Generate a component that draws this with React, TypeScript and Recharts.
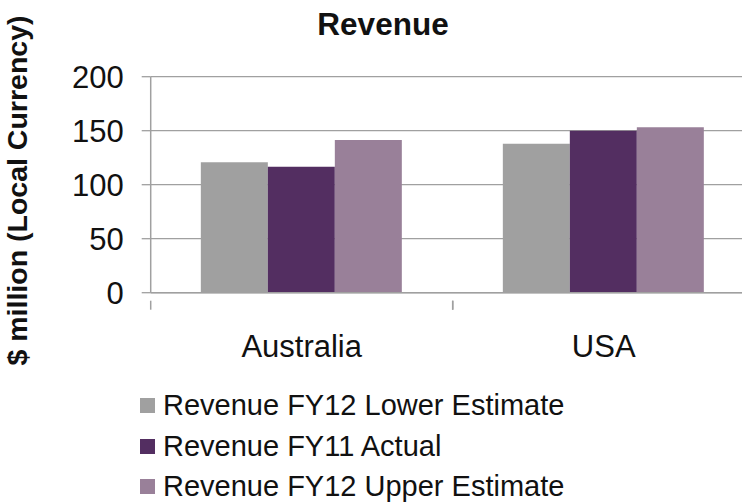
import React from 'react';
import { BarChart, Bar, XAxis, YAxis, CartesianGrid } from 'recharts';

const regions = ['Australia', 'USA'];
const lowerFY12 = [120.7, 138];
const actualFY11 = [116.7, 150];
const upperFY12 = [141.4, 153.1];
const yTicks = [0, 50, 100, 150, 200];

const seriesNames = {
  lower: 'Revenue FY12 Lower Estimate',
  actual: 'Revenue FY11 Actual',
  upper: 'Revenue FY12 Upper Estimate',
};

const colors = {
  lower: '#A0A0A0',
  actual: '#532E61',
  upper: '#998099',
};

const data = regions.map((region, i) => ({
  region,
  lower: lowerFY12[i],
  actual: actualFY11[i],
  upper: upperFY12[i],
}));

const FONT = '"Liberation Sans", Arial, sans-serif';
const AXIS_GREY = '#A0A0A0';

const CHART_W = 770;
const MARGIN = { top: 76.7, right: 15.3, bottom: 149.3, left: 0 };
const Y_AXIS_W = 150.7;
const PLOT_W = CHART_W - MARGIN.right - Y_AXIS_W;

// category labels, with the tick marks drawn on the category boundaries
const CategoryTick = (props: any) => {
  const { x, y, payload } = props;
  const half = PLOT_W / regions.length / 2;
  return (
    <g>
      <line x1={x - half} y1={y} x2={x - half} y2={y + 9} stroke={AXIS_GREY} strokeWidth={1.5} />
      <line x1={x + half} y1={y} x2={x + half} y2={y + 9} stroke={AXIS_GREY} strokeWidth={1.5} />
      <text x={x} y={y + 34} dy="0.71em" textAnchor="middle" fontSize={31} fill="#111" fontFamily={FONT}>
        {payload.value}
      </text>
    </g>
  );
};

export default function App() {
  const keys = ['lower', 'actual', 'upper'] as const;
  return (
    <div style={{ position: 'absolute', left: 0, top: 0, width: 742, height: 502, overflow: 'hidden', background: '#fff', fontFamily: FONT }}>
      <BarChart
        width={CHART_W}
        height={502}
        data={data}
        margin={MARGIN}
        barCategoryGap="16.6%"
        barGap={0}
      >
        <CartesianGrid vertical={false} stroke={AXIS_GREY} strokeWidth={1.3} />
        <XAxis
          dataKey="region"
          height={60}
          axisLine={{ stroke: AXIS_GREY, strokeWidth: 1.5 }}
          tickLine={false}
          tick={<CategoryTick />}
          interval={0}
        />
        <YAxis
          width={Y_AXIS_W}
          domain={[0, 200]}
          ticks={yTicks}
          tickSize={9}
          tickMargin={18}
          axisLine={{ stroke: AXIS_GREY, strokeWidth: 1.5 }}
          tickLine={{ stroke: AXIS_GREY, strokeWidth: 1.3 }}
          tick={{ fontSize: 31, fill: '#111', fontFamily: FONT }}
        />
        {keys.map((k) => (
          <Bar key={k} dataKey={k} name={seriesNames[k]} fill={colors[k]} isAnimationActive={false} />
        ))}
      </BarChart>

      {/* Title and y axis label */}
      <svg width={742} height={502} style={{ position: 'absolute', left: 0, top: 0, pointerEvents: 'none' }}>
        <text x={383} y={35} textAnchor="middle" fontSize={31.5} fontWeight="bold" fill="#111" fontFamily={FONT}>
          Revenue
        </text>
        <text
          transform="translate(27, 190.5) rotate(-90)"
          textAnchor="middle"
          fontSize={28.5}
          fontWeight="bold"
          fill="#111"
          fontFamily={FONT}
        >
          $ million (Local Currency)
        </text>
      </svg>

      {/* Legend */}
      <div style={{ position: 'absolute', left: 140, top: 385.25 }}>
        {keys.map((k) => (
          <div key={k} style={{ display: 'flex', alignItems: 'center', height: 40.5, lineHeight: '40.5px' }}>
            <div style={{ width: 15, height: 15, background: colors[k], marginRight: 8 }} />
            <span style={{ fontSize: 29, color: '#111', whiteSpace: 'nowrap' }}>{seriesNames[k]}</span>
          </div>
        ))}
      </div>
    </div>
  );
}
